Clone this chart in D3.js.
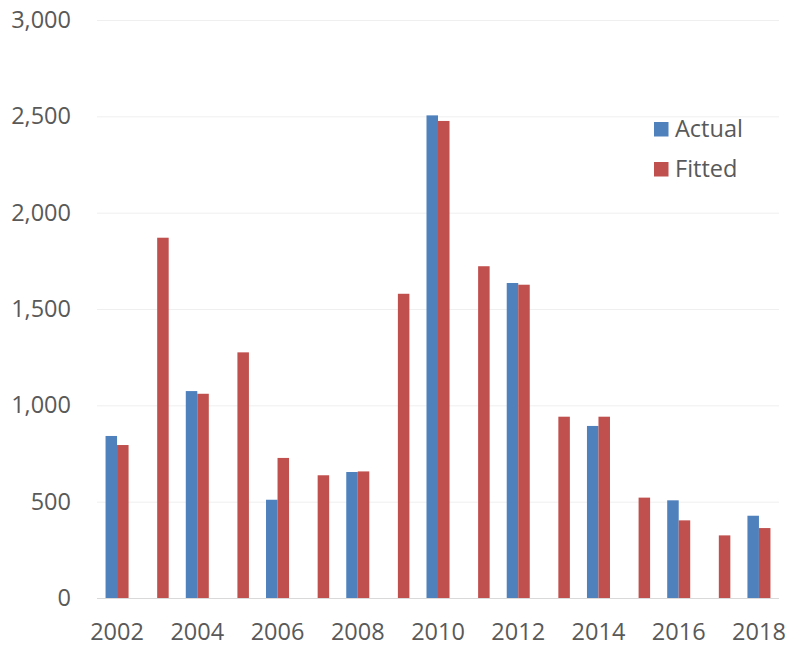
<!DOCTYPE html>
<html>
<head>
<meta charset="utf-8">
<script src="https://cdn.jsdelivr.net/npm/d3@7"></script>
<style>
  html, body { margin: 0; padding: 0; background: #fff; }
  svg { display: block; }
  text { font-family: "Open Sans", sans-serif; fill: #595959; }
</style>
</head>
<body>
<svg id="chart" width="788" height="648"></svg>
<script>
const years = ["2002","2003","2004","2005","2006","2007","2008","2009","2010","2011","2012","2013","2014","2015","2016","2017","2018"];
const actual = [841, null, 1074, null, 510, null, 654, null, 2505, null, 1635, null, 893, null, 507, null, 427];
const fitted = [794, 1870, 1060, 1275, 727, 637, 657, 1579, 2476, 1722, 1626, 941, 941, 521, 403, 325, 363];
const seriesNames = ["Actual", "Fitted"];
const seriesColors = ["#4F81BD", "#C0504D"];
const yTicks = [0, 500, 1000, 1500, 2000, 2500, 3000];
const xTickLabels = ["2002","2004","2006","2008","2010","2012","2014","2016","2018"];

(function () {
const svg = d3.select("#chart");
const mLeft = 97, mRight = 779, mTop = 20, mBottom = 598;

const y = d3.scaleLinear().domain([0, 3000]).range([mBottom, mTop]);
const x0 = d3.scaleBand().domain(years).range([mLeft, mRight]).padding(0);
const x1 = d3.scaleBand().domain(seriesNames).range([0, x0.bandwidth()])
  .paddingInner(0).paddingOuter(0.743);

// gridlines
const grid = svg.append("g").attr("transform", `translate(${mLeft},0)`)
  .call(d3.axisLeft(y).tickValues(yTicks.slice(1)).tickSize(-(mRight - mLeft)).tickFormat(""));
grid.select(".domain").remove();
grid.selectAll("line").attr("stroke", "#efefef").attr("stroke-width", 1);

// y axis labels
const yAxis = svg.append("g").attr("transform", `translate(71,0)`)
  .call(d3.axisLeft(y).tickValues(yTicks).tickSize(0).tickPadding(0).tickFormat(d3.format(",")));
yAxis.select(".domain").remove();
yAxis.selectAll("text").attr("font-size", "23.5px").attr("fill", "#595959")
  .attr("font-family", "'Open Sans', sans-serif");

// bars
const data = years.map((yr, i) => ({ year: yr, values: [
  { key: "Actual", value: actual[i], color: seriesColors[0] },
  { key: "Fitted", value: fitted[i], color: seriesColors[1] }
]}));

const groups = svg.append("g").selectAll("g").data(data).join("g")
  .attr("transform", d => `translate(${x0(d.year)},0)`);
groups.selectAll("rect").data(d => d.values.filter(v => v.value != null)).join("rect")
  .attr("x", d => x1(d.key))
  .attr("width", x1.bandwidth())
  .attr("y", d => y(d.value))
  .attr("height", d => y(0) - y(d.value))
  .attr("fill", d => d.color);

// baseline axis
svg.append("line").attr("x1", mLeft).attr("x2", mRight).attr("y1", mBottom + 0.5).attr("y2", mBottom + 0.5)
  .attr("stroke", "#d9d9d9").attr("stroke-width", 1);

// x axis labels
const xAxis = svg.append("g").attr("transform", `translate(0,${mBottom})`)
  .call(d3.axisBottom(x0).tickValues(xTickLabels).tickSize(0).tickPadding(25));
xAxis.select(".domain").remove();
xAxis.selectAll("text").attr("font-size", "23.5px").attr("fill", "#595959")
  .attr("font-family", "'Open Sans', sans-serif");

// legend
const legend = svg.append("g");
seriesNames.forEach((name, i) => {
  const ly = 122 + i * 40;
  legend.append("rect").attr("x", 654).attr("y", ly).attr("width", 14.5).attr("height", 14.5)
    .attr("fill", seriesColors[i]);
  legend.append("text").attr("x", 675).attr("y", ly + 15).attr("font-size", "23.5px")
    .text(name);
});
})();
</script>
</body>
</html>
